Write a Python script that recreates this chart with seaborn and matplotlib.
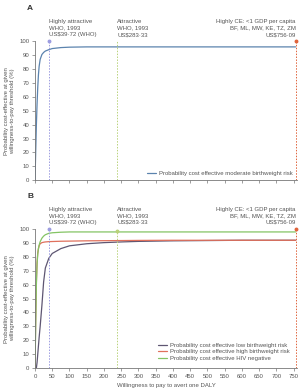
import matplotlib
matplotlib.use("Agg")
import matplotlib.pyplot as plt
import seaborn as sns
import pandas as pd

sns.set_theme(style="white")
plt.rcParams['font.family'] = ['Liberation Sans', 'DejaVu Sans']

# ---- data ----
wtp_x = [0, 2, 4, 6, 8, 10, 12, 15, 20, 25, 30, 40, 50, 75, 100, 150, 200, 250, 300, 400, 500, 600, 700, 756]
moderate_bw = [0, 20, 40, 55, 67, 76, 82, 87, 90.5, 92, 93, 94, 94.8, 95.5, 95.8, 96, 96, 96, 96, 96, 96, 96, 96, 96]
low_bw = [0, 0, 0, 4, 10, 16, 22, 30, 45, 62, 72, 79, 82.5, 86, 88, 89.5, 90.3, 90.8, 91.2, 91.6, 91.8, 92, 92, 92]
high_bw = [0, 35, 62, 76, 83, 86, 88, 89.5, 90.3, 90.6, 90.8, 91, 91.1, 91.3, 91.4, 91.6, 91.7, 91.8, 91.9, 92, 92, 92, 92, 92]
hiv_neg = [0, 30, 60, 75, 82, 86, 88.5, 91, 93.5, 95, 96, 97, 97.4, 97.8, 98, 98, 98, 98, 98, 98, 98, 98, 98, 98]

thresholds = [39.72, 238.33, 756.09]
threshold_labels = [
    "Highly attractive\nWHO, 1993\nUS$39·72 (WHO)",
    "Attractive\nWHO, 1993\nUS$283·33",
    "Highly CE: <1 GDP per capita\nBF, ML, MW, KE, TZ, ZM\nUS$756·09",
]
threshold_colors = ["#9c9ce0", "#b9d27a", "#e0643c"]
x_ticks = list(range(0, 751, 50))
y_ticks = list(range(0, 101, 10))

text_col = "#555555"
fs = 4.3

fig = plt.figure(figsize=(3.02, 3.90), dpi=100)
axA = fig.add_axes([35/302, 0.538, 262/302, 0.356])
axB = fig.add_axes([35/302, 0.0564, 262/302, 0.356])

dfA = pd.DataFrame({"x": wtp_x, "y": moderate_bw})
sns.lineplot(data=dfA, x="x", y="y", ax=axA, color="#5b83ae", lw=0.9,
             label="Probability cost effective moderate birthweight risk")

series = [
    ("Probability cost effective low birthweight risk", low_bw, "#5e5672"),
    ("Probability cost effective high birthweight risk", high_bw, "#e0705c"),
    ("Probability cost effective HIV negative", hiv_neg, "#84c464"),
]
for lab, vals, col in series:
    d = pd.DataFrame({"x": wtp_x, "y": vals})
    sns.lineplot(data=d, x="x", y="y", ax=axB, color=col, lw=0.9, label=lab)

dots_by_panel = {0: [100, None, 100], 1: [100, 99, 100]}

for pi, ax in enumerate((axA, axB)):
    dots = dots_by_panel[pi]
    ax.set_xlim(0, 760)
    ax.set_ylim(0, 100)
    ax.set_xticks(x_ticks)
    ax.set_yticks(y_ticks)
    for s in ("top", "right"):
        ax.spines[s].set_visible(False)
    for s in ("left", "bottom"):
        ax.spines[s].set_color("#777777")
        ax.spines[s].set_linewidth(0.6)
    ax.tick_params(axis="both", which="both", direction="out", length=2.5, width=0.5,
                   colors="#777777", labelsize=fs, labelcolor=text_col, pad=1.5,
                   left=True, bottom=True)
    ax.set_xlabel("")
    ax.set_ylabel("Probability cost-effective at given\nwillingness-to-pay threshold (%)",
                  fontsize=fs, color=text_col, labelpad=3, linespacing=1.3)
    for i, (t, lab, col) in enumerate(zip(thresholds, threshold_labels, threshold_colors)):
        ax.axvline(t, color=col, lw=0.7, ls=(0, (1.5, 1.5)), ymax=1.0)
        if dots[i] is not None:
            ax.plot([t], [dots[i]], marker="o", ms=1.8, color=col, clip_on=False)
        if i < 2:
            ax.text(t, 103, lab, fontsize=fs, color=text_col, ha="left", va="bottom",
                    linespacing=1.35, clip_on=False)
        else:
            ax.text(t, 103, lab, fontsize=fs, color=text_col, ha="right", va="bottom",
                    linespacing=1.35, clip_on=False)
    ax.legend(loc="lower right", frameon=False, fontsize=fs, handlelength=1.6,
              handletextpad=0.5, labelspacing=0.2,
              borderaxespad=0.3 if pi == 0 else 0.8,
              labelcolor=text_col)

axA.set_xticklabels([])
axB.set_xticklabels([str(v) for v in x_ticks])
axB.set_xlabel("Willingness to pay to avert one DALY", fontsize=fs, color=text_col, labelpad=3)

fig.text(27/302, 1 - 9/390, "A", fontsize=6, fontweight="bold", color="#333333", va="center")
fig.text(27/302, 1 - 197/390, "B", fontsize=6, fontweight="bold", color="#333333", va="center")

fig.savefig("out.png", dpi=100)
